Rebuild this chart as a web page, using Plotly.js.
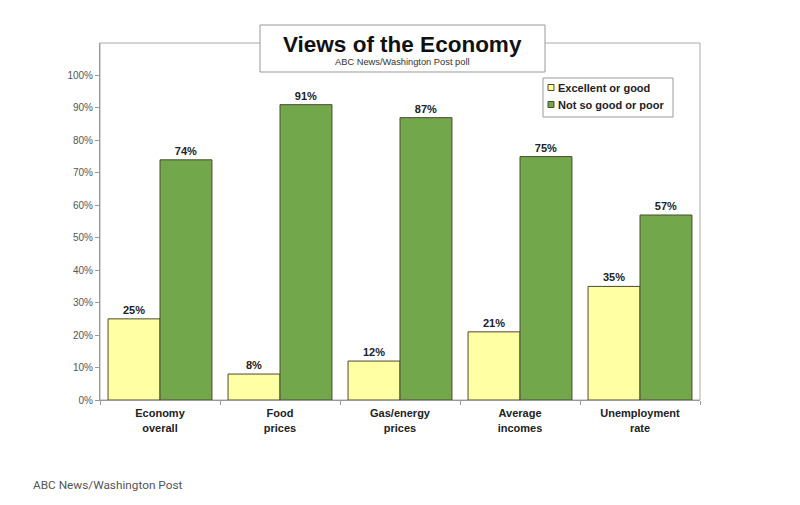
<!DOCTYPE html>
<html>
<head>
<meta charset="utf-8">
<script src="https://cdn.plot.ly/plotly-3.0.1.min.js"></script>
<style>
html,body{margin:0;padding:0;background:#fff;}
#chart{width:800px;height:505px;}
</style>
</head>
<body>
<div id="chart"></div>
<script>
const categories = ["Economy<br>overall", "Food<br>prices", "Gas/energy<br>prices", "Average<br>incomes", "Unemployment<br>rate"];
const seriesNames = ["Excellent or good", "Not so good or poor"];
const excellentGood = [25, 8, 12, 21, 35];
const notSoGoodPoor = [74, 91, 87, 75, 57];
const yTickVals = [0, 10, 20, 30, 40, 50, 60, 70, 80, 90, 100];
const yTickText = ["0%", "10%", "20%", "30%", "40%", "50%", "60%", "70%", "80%", "90%", "100%"];

const yellow = "#FFFFA3";
const green = "#72A74C";
const edge = "#4a4a30";
const font = "Arial, Liberation Sans, sans-serif";

const common = {
  type: "bar",
  x: categories,
  texttemplate: "<b>%{y}%</b>",
  textposition: "outside",
  cliponaxis: false,
  textfont: {family: font, size: 11, color: "#222"},
  showlegend: false,
  hoverinfo: "none"
};

const traces = [
  Object.assign({}, common, {name: seriesNames[0], y: excellentGood, marker: {color: yellow, line: {color: edge, width: 1}}}),
  Object.assign({}, common, {name: seriesNames[1], y: notSoGoodPoor, marker: {color: green, line: {color: edge, width: 1}}})
];

const px = v => (v - 100) / 600;
const py = v => (400 - v) / 357;

const layout = {
  width: 800, height: 505,
  margin: {l: 100, r: 100, t: 43, b: 105},
  paper_bgcolor: "#fff", plot_bgcolor: "#fff",
  barmode: "group", bargap: 0.134, bargroupgap: 0,
  font: {family: font, color: "#222"},
  xaxis: {
    type: "category",
    showline: true, linecolor: "#999", linewidth: 1,
    ticks: "outside", tickson: "boundaries", ticklen: 4, tickcolor: "#999",
    ticklabelstandoff: 3,
    tickfont: {family: font, size: 11, color: "#222", weight: "bold"},
    showgrid: false, zeroline: false, fixedrange: true
  },
  yaxis: {
    range: [0, 110],
    tickvals: yTickVals, ticktext: yTickText,
    showline: true, linecolor: "#999", linewidth: 1,
    ticks: "outside", ticklen: 4, tickcolor: "#999",
    tickfont: {family: font, size: 10, color: "#555"},
    showgrid: false, zeroline: false, fixedrange: true
  },
  shapes: [
    {type: "rect", xref: "paper", yref: "paper", x0: 0, x1: 1, y0: 0, y1: 1, line: {color: "#aaa", width: 1}, layer: "below"},
    {type: "rect", xref: "paper", yref: "paper", x0: px(260), x1: px(545), y0: py(72), y1: py(25), fillcolor: "#fff", line: {color: "#999", width: 1}, layer: "above"},
    {type: "rect", xref: "paper", yref: "paper", x0: px(543), x1: px(673), y0: py(117), y1: py(78), fillcolor: "#fff", line: {color: "#999", width: 1}, layer: "above"},
    {type: "rect", xref: "paper", yref: "paper", x0: px(548), x1: px(554), y0: py(90.5), y1: py(84.5), fillcolor: yellow, line: {color: edge, width: 1}, layer: "above"},
    {type: "rect", xref: "paper", yref: "paper", x0: px(548), x1: px(554), y0: py(107.5), y1: py(101.5), fillcolor: green, line: {color: edge, width: 1}, layer: "above"}
  ],
  annotations: [
    {xref: "paper", yref: "paper", x: px(402), y: py(44), xanchor: "center", yanchor: "middle", showarrow: false,
     text: "<b>Views of the Economy</b>", font: {family: font, size: 22.5, color: "#111"}},
    {xref: "paper", yref: "paper", x: px(402), y: py(62), xanchor: "center", yanchor: "middle", showarrow: false,
     text: "ABC News/Washington Post poll", font: {family: font, size: 9.3, color: "#333"}},
    {xref: "paper", yref: "paper", x: px(556), y: py(87.5), xanchor: "left", yanchor: "middle", showarrow: false,
     text: "<b>" + seriesNames[0] + "</b>", font: {family: font, size: 11, color: "#222"}},
    {xref: "paper", yref: "paper", x: px(556), y: py(104.5), xanchor: "left", yanchor: "middle", showarrow: false,
     text: "<b>" + seriesNames[1] + "</b>", font: {family: font, size: 11, color: "#222"}},
    {xref: "paper", yref: "paper", x: px(31), y: py(485), xanchor: "left", yanchor: "middle", showarrow: false,
     text: "ABC News/Washington Post", font: {family: "Roboto, Open Sans, sans-serif", size: 11.8, color: "#555"}}
  ]
};

Plotly.newPlot("chart", traces, layout, {displayModeBar: false, staticPlot: true});
</script>
</body>
</html>
